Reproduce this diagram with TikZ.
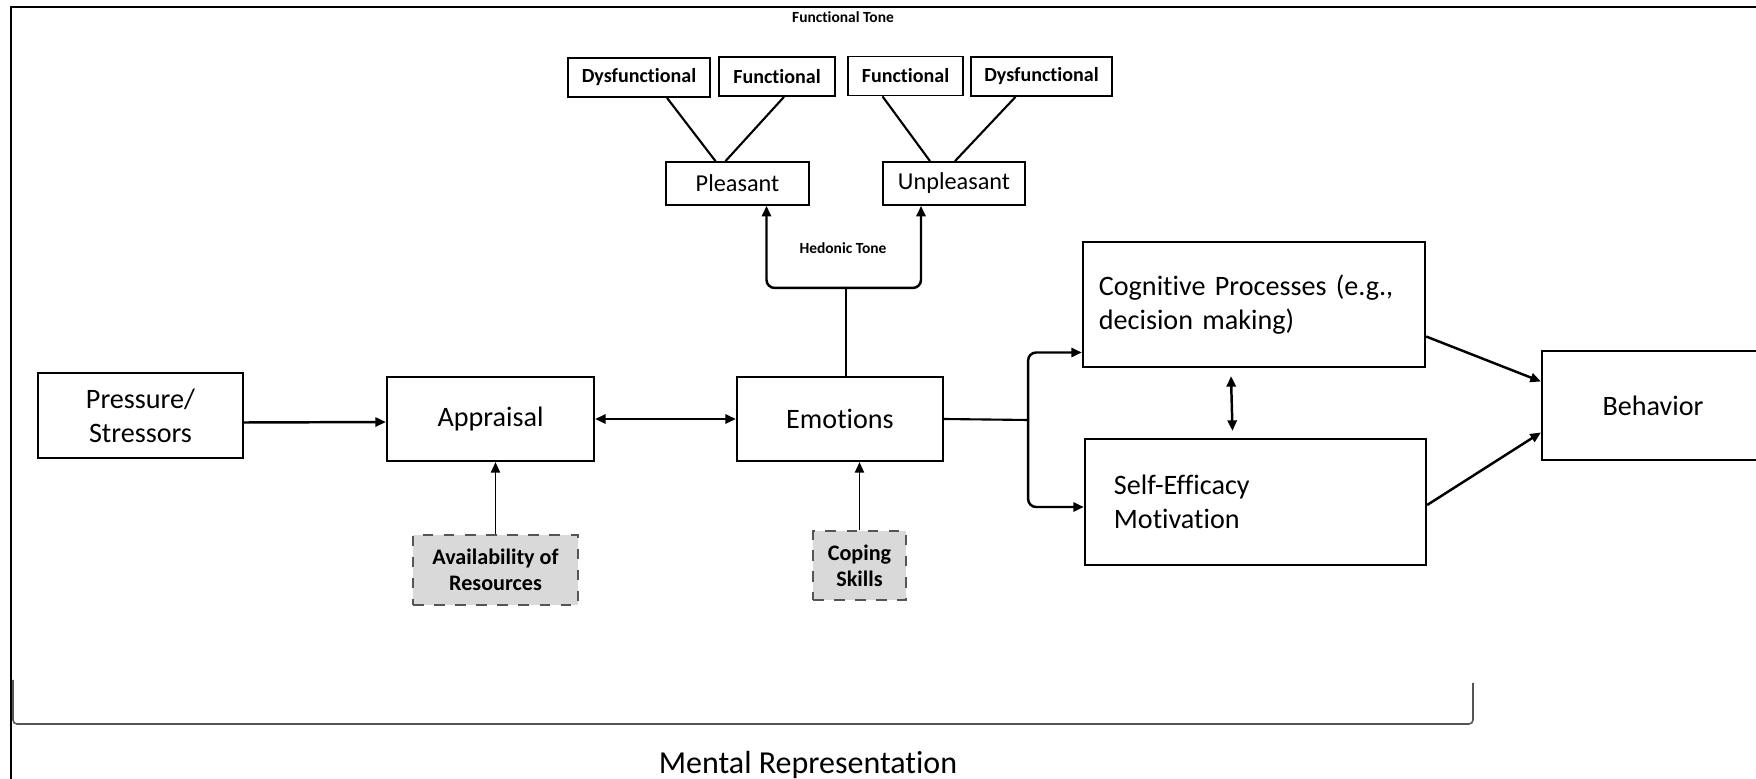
\documentclass[tikz,border=0pt]{standalone}
\usepackage{fontspec}
\setmainfont{Carlito}[Ligatures={NoCommon,NoContextual,NoRequired}]
\usetikzlibrary{arrows.meta,calc}
\definecolor{resgray}{RGB}{217,217,217}
\definecolor{dashgray}{RGB}{85,85,85}
\tikzset{
  mainbox/.style={draw, line width=0.6pt, inner sep=0pt, align=center, font=\fontsize{8}{9.6}\selectfont},
  hedbox/.style={draw, line width=0.5pt, inner sep=0pt, minimum height=0.43cm, font=\fontsize{6.9}{8}\selectfont},
  funcbox/.style={draw, line width=0.5pt, inner sep=0pt, minimum height=0.39cm, font=\fontsize{5.7}{6.8}\selectfont\bfseries},
  resbox/.style={draw=dashgray, fill=resgray, dashed, line width=0.4pt, inner sep=0pt, align=center, font=\fontsize{6.3}{7.4}\selectfont\bfseries},
  tonelabel/.style={inner sep=0pt, font=\fontsize{4.4}{5}\selectfont\bfseries},
  arr/.style={line width=0.7pt, -{Triangle[length=3pt,width=2.6pt]}},
  biarr/.style={line width=0.7pt, {Triangle[length=3pt,width=2.6pt]}-{Triangle[length=3pt,width=2.6pt]}},
  thinarr/.style={line width=0.45pt, -{Triangle[length=3pt,width=2.6pt]}},
  wire/.style={line width=0.6pt},
  mentalbrace/.style={line width=0.45pt, draw=dashgray, rounded corners=0.04cm}
}
\begin{document}
\begin{tikzpicture}[x=0.01cm, y=-0.01cm]
  \useasboundingbox (0,0) rectangle (1756,779);
  \draw[line width=0.6pt] (11,779) -- (11,7) -- (1756,7);
  \node[mainbox, minimum width=2.05cm, minimum height=0.85cm] (press) at (140.5,415.5) {Pressure/\\Stressors};
  \node[mainbox, minimum width=2.07cm, minimum height=0.84cm] (apprais) at (490.5,419) {Appraisal};
  \node[mainbox, minimum width=2.06cm, minimum height=0.84cm] (emot) at (840,419) {Emotions};
  \node[mainbox, minimum width=3.42cm, minimum height=1.25cm, align=left, text width=3.1cm] (cogn) at (1254,304.5) {Cognitive Processes (e.g.,\\decision making)};
  \node[mainbox, minimum width=3.41cm, minimum height=1.26cm, align=left, text width=2.83cm] (selfeff) at (1255.5,502) {Self-Efficacy\\Motivation};
  \node[mainbox, minimum width=2.22cm, minimum height=1.09cm] (behav) at (1653,405.5) {Behavior};
  \node[resbox, minimum width=1.65cm, minimum height=0.70cm] (avail) at (495.5,570) {Availability of\\Resources};
  \node[resbox, minimum width=0.93cm, minimum height=0.69cm] (coping) at (859.5,565.5) {Coping\\Skills};
  \node[hedbox, minimum width=1.43cm] (pleas) at (737.5,183.5) {Pleasant};
  \node[hedbox, minimum width=1.42cm] (unpleas) at (954,183.5) {Unpleasant};
  \node[funcbox, minimum width=1.42cm] (dysA) at (639,77.5) {Dysfunctional};
  \node[funcbox, minimum width=1.16cm] (funA) at (777,76.5) {Functional};
  \node[funcbox, minimum width=1.15cm] (funB) at (905.5,76) {Functional};
  \node[funcbox, minimum width=1.41cm] (dysB) at (1041.5,76.5) {Dysfunctional};
  \node[tonelabel] (functone) at (843,17) {Functional Tone};
  \node[tonelabel] (hedtone) at (843,248) {Hedonic Tone};
  \node[inner sep=0pt, font=\fontsize{9.1}{10.5}\selectfont] (mental) at (808,765) {Mental Representation};
  \draw[arr] ($(press.east)+(0,7)$) -- ($(apprais.west)+(0,3)$);
  \draw[biarr] (apprais.east) -- (emot.west);
  \draw[thinarr] (avail.north) -- (avail.north |- apprais.south);
  \draw[thinarr] (coping.north) -- (coping.north |- emot.south);
  \coordinate (hub) at ($(emot.north)+(6,-88)$);
  \draw[line width=0.45pt] ($(emot.north)+(6,0)$) -- (hub);
  \draw[arr, rounded corners=0.08cm] (hub) -| ($(pleas.south)+(29,0)$);
  \draw[arr, rounded corners=0.08cm] (hub) -| ($(unpleas.south)+(-33,0)$);
  \draw[wire] ($(dysA.south)+(28,0)$) -- ($(pleas.north)+(-22,0)$);
  \draw[wire] ($(funA.south)+(7,0)$) -- ($(pleas.north)+(-12,0)$);
  \draw[wire] ($(funB.south)+(-23,0)$) -- ($(unpleas.north)+(-24,0)$);
  \draw[wire] ($(dysB.south)+(-26,0)$) -- ($(unpleas.north)+(1,0)$);
  \coordinate (split) at ($(emot.east)+(84,1)$);
  \draw[wire] (emot.east) -- (split);
  \draw[arr, rounded corners=0.08cm] (split) |- ($(cogn.west)+(0,48)$);
  \draw[arr, rounded corners=0.08cm] (split) |- ($(selfeff.west)+(0,5)$);
  \draw[biarr] ($(cogn.south)+(-23,8)$) -- ($(selfeff.north)+(-23,-7)$);
  \draw[arr] ($(cogn.east)+(0,32)$) -- ($(behav.west)+(0,-24)$);
  \draw[arr] ($(selfeff.east)+(0,3)$) -- ($(behav.west)+(0,27)$);
  \draw[mentalbrace] (13,680) -- (13,724) -- (1473,724) -- (1473,683);
\end{tikzpicture}
\end{document}
